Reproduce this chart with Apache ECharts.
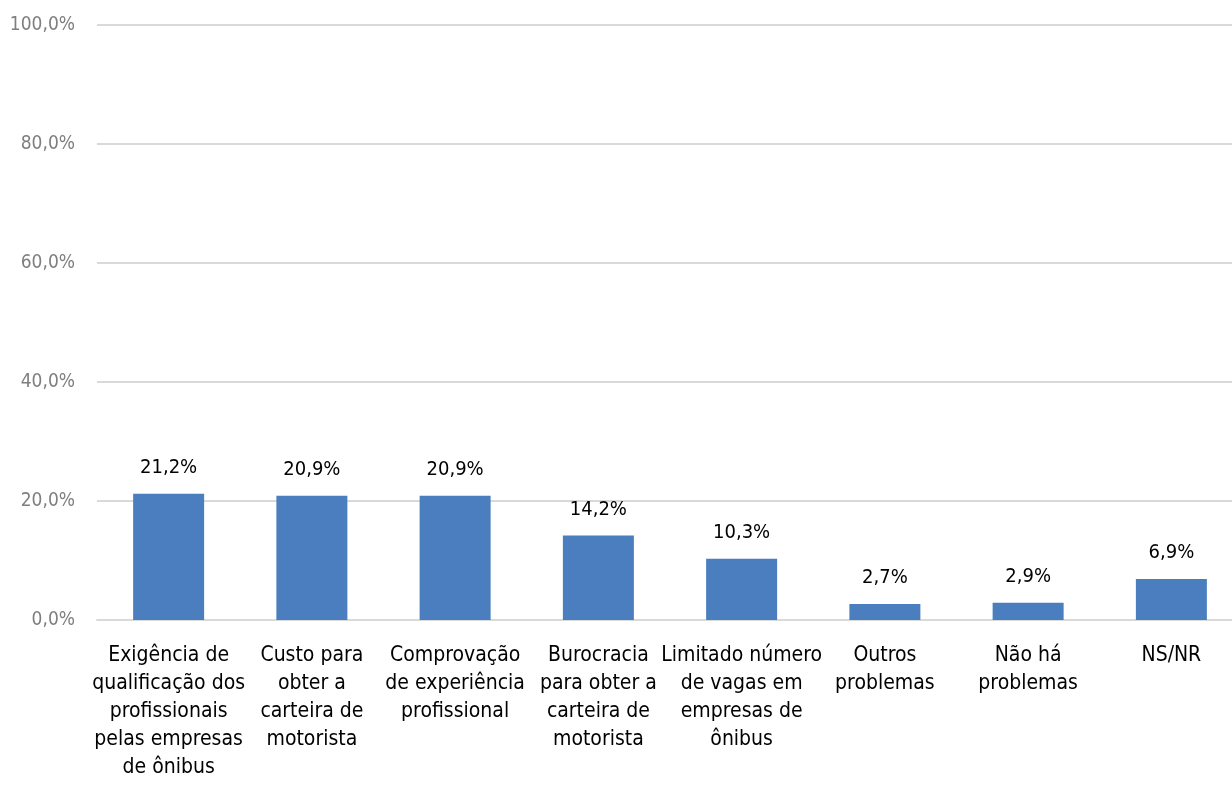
<!DOCTYPE html>
<html>
<head>
<meta charset="utf-8">
<script src="https://cdn.jsdelivr.net/npm/echarts@6/dist/echarts.min.js"></script>
<style>
  html, body { margin: 0; padding: 0; background: #fff; }
  #chart { width: 1232px; height: 791px; }
</style>
</head>
<body>
<div id="chart"></div>
<script>
// categorias (quebras de linha como no original)
const categories = [
  'Exigência de\nqualificação dos\nprofissionais\npelas empresas\nde ônibus',
  'Custo para\nobter a\ncarteira de\nmotorista',
  'Comprovação\nde experiência\nprofissional',
  'Burocracia\npara obter a\ncarteira de\nmotorista',
  'Limitado número\nde vagas em\nempresas de\nônibus',
  'Outros\nproblemas',
  'Não há\nproblemas',
  'NS/NR'
]
const values = [21.2, 20.9, 20.9, 14.2, 10.3, 2.7, 2.9, 6.9]
const yTicks = [0, 20, 40, 60, 80, 100]

const font = '"Liberation Sans Narrow", "DejaVu Sans Condensed", "Roboto", sans-serif'
const pct = v => v.toFixed(1).replace('.', ',') + '%'

const chart = echarts.init(document.getElementById('chart'))
chart.setOption({
  backgroundColor: '#fff',
  animation: false,
  grid: {
    left: 97,
    top: 25,
    width: 1146,
    bottom: 171,
    containLabel: false,
    outerBoundsMode: 'none'
  },
  xAxis: {
    type: 'category',
    data: categories,
    axisLine: { lineStyle: { color: '#d9d9d9', width: 2 } },
    axisTick: { show: false },
    axisLabel: {
      interval: 0,
      margin: 22,
      color: '#000',
      fontFamily: font,
      fontSize: 21,
      lineHeight: 28
    }
  },
  yAxis: {
    type: 'value',
    min: yTicks[0],
    max: yTicks[yTicks.length - 1],
    interval: 20,
    axisLine: { show: false },
    axisTick: { show: false },
    splitLine: { lineStyle: { color: '#d9d9d9', width: 2 } },
    axisLabel: {
      margin: 22,
      color: '#7f7f7f',
      fontFamily: font,
      fontSize: 19,
      formatter: pct
    }
  },
  series: [{
    type: 'bar',
    data: values,
    barWidth: 71,
    itemStyle: { color: '#4a7ebe' },
    label: {
      show: true,
      position: 'top',
      distance: 16,
      color: '#000',
      fontFamily: font,
      fontSize: 20,
      formatter: p => pct(p.value)
    }
  }]
})
</script>
</body>
</html>
